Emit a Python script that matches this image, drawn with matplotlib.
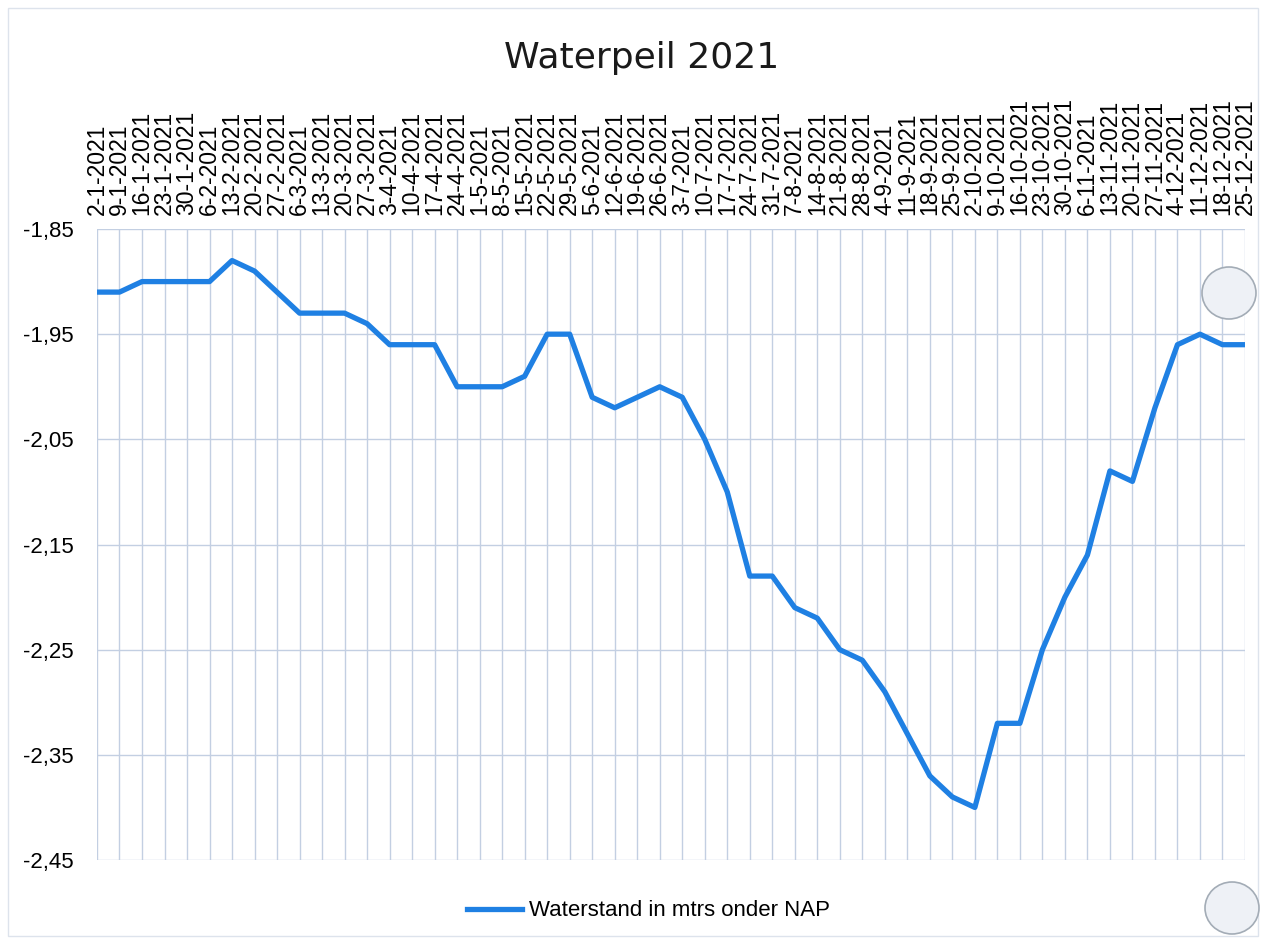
import matplotlib
matplotlib.use("Agg")
import matplotlib.pyplot as plt
from matplotlib.patches import Ellipse, Rectangle

# weekly measurements (Saturday dates)
dates = [
    "2-1-2021", "9-1-2021", "16-1-2021", "23-1-2021", "30-1-2021",
    "6-2-2021", "13-2-2021", "20-2-2021", "27-2-2021",
    "6-3-2021", "13-3-2021", "20-3-2021", "27-3-2021",
    "3-4-2021", "10-4-2021", "17-4-2021", "24-4-2021",
    "1-5-2021", "8-5-2021", "15-5-2021", "22-5-2021", "29-5-2021",
    "5-6-2021", "12-6-2021", "19-6-2021", "26-6-2021",
    "3-7-2021", "10-7-2021", "17-7-2021", "24-7-2021", "31-7-2021",
    "7-8-2021", "14-8-2021", "21-8-2021", "28-8-2021",
    "4-9-2021", "11-9-2021", "18-9-2021", "25-9-2021",
    "2-10-2021", "9-10-2021", "16-10-2021", "23-10-2021", "30-10-2021",
    "6-11-2021", "13-11-2021", "20-11-2021", "27-11-2021",
    "4-12-2021", "11-12-2021", "18-12-2021", "25-12-2021",
]
waterstand = [
    -1.91, -1.91, -1.90, -1.90, -1.90,
    -1.90, -1.88, -1.89, -1.91,
    -1.93, -1.93, -1.93, -1.94,
    -1.96, -1.96, -1.96, -2.00,
    -2.00, -2.00, -1.99, -1.95, -1.95,
    -2.01, -2.02, -2.01, -2.00,
    -2.01, -2.05, -2.10, -2.18, -2.18,
    -2.21, -2.22, -2.25, -2.26,
    -2.29, -2.33, -2.37, -2.39,
    -2.40, -2.32, -2.32, -2.25, -2.20,
    -2.16, -2.08, -2.09, -2.02,
    -1.96, -1.95, -1.96, -1.96,
]
y_ticks = [-2.45, -2.35, -2.25, -2.15, -2.05, -1.95, -1.85]
y_tick_labels = ["-2,45", "-2,35", "-2,25", "-2,15", "-2,05", "-1,95", "-1,85"]

line_color = "#1f80e3"
grid_color = "#c3cfe2"
label_font = "Liberation Sans"

fig = plt.figure(figsize=(12.66, 9.42), dpi=100)
ax = fig.add_axes([0.0766, 0.0870, 0.9068, 0.6699])

x = list(range(len(dates)))
ax.plot(x, waterstand, color=line_color, linewidth=3.8, solid_joinstyle="round",
        label="Waterstand in mtrs onder NAP", zorder=3)

ax.set_xlim(0, len(dates) - 1)
ax.set_ylim(y_ticks[0], y_ticks[-1])

ax.xaxis.tick_top()
ax.set_xticks(x)
ax.set_xticklabels(dates, rotation=90, fontsize=16.5, family=label_font)
ax.set_yticks(y_ticks)
ax.set_yticklabels(y_tick_labels, fontsize=16, family=label_font)
ax.tick_params(axis="x", length=0, pad=10)
ax.tick_params(axis="y", length=0, pad=17)

ax.grid(True, color=grid_color, linewidth=1.0)
ax.set_axisbelow(True)
for s in ax.spines.values():
    s.set_visible(False)

fig.text(0.507, 0.938, "Waterpeil 2021", ha="center", va="center",
         fontsize=26, family="DejaVu Sans", color="#1a1a1a")

fig.legend(loc="center", bbox_to_anchor=(0.512, 0.033), frameon=False,
           handlelength=2.5, handletextpad=0.3,
           prop={"family": label_font, "size": 16})

# faint outline of the chart area and the punch holes of the scanned sheet
fig.patches.append(Rectangle((0.006, 0.006), 0.988, 0.985, transform=fig.transFigure,
                             fill=False, edgecolor="#dde3ec", linewidth=1.0))
for cx, cy in [(1229, 293), (1232, 908)]:
    fig.patches.append(Ellipse((cx / 1266, 1 - cy / 942), 54 / 1266, 52 / 942,
                               transform=fig.transFigure, facecolor="#eef1f6",
                               edgecolor="#a3acb6", linewidth=1.2, zorder=5))

fig.savefig("out.png", dpi=100, facecolor="white")
